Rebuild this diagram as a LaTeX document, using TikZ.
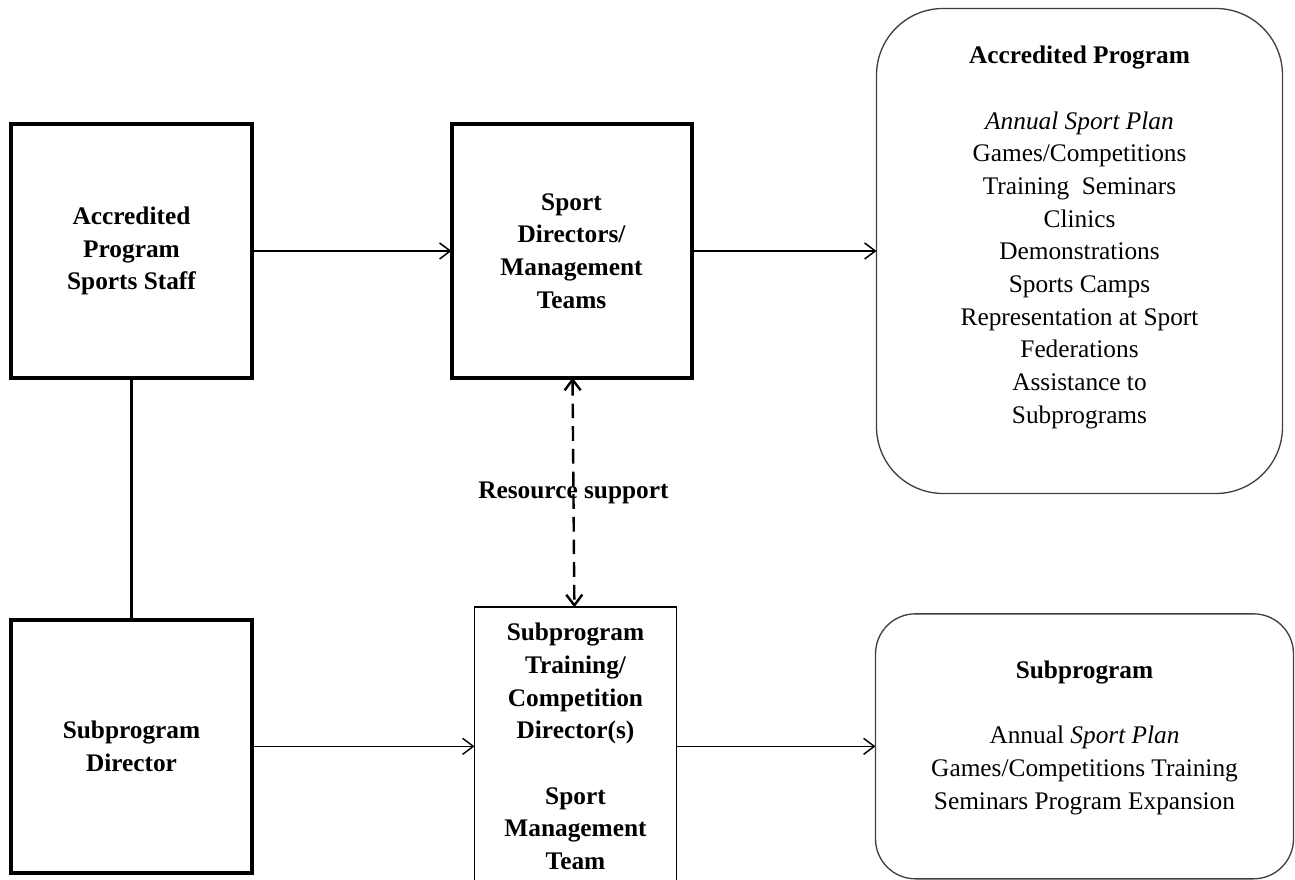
\documentclass[tikz,border=0pt]{standalone}
\usepackage{fontspec}
\setmainfont{Liberation Serif}
\usetikzlibrary{positioning, arrows.meta}

\begin{document}
\begin{tikzpicture}[
    outer sep=0pt,
    block/.style={draw, line width=3pt, minimum width=180pt, minimum height=190pt,
                  font=\fontsize{19}{24.5}\selectfont\bfseries, align=center, inner sep=0pt},
    subblock/.style={block, line width=1.3pt, minimum width=151.5pt, minimum height=208.5pt},
    listbox/.style={draw=black!75, line width=1pt, align=center, inner sep=0pt,
                    font=\fontsize{19}{24.5}\selectfont},
    io/.style={font=\fontsize{19}{24.5}\selectfont\bfseries, inner sep=0pt},
    arr/.style={draw, -{Straight Barb[length=8pt, width=12pt]}, line width=1.1pt},
    dashline/.style={draw, {Straight Barb[length=8pt, width=12pt]}-{Straight Barb[length=8pt, width=12pt]},
                     line width=1.8pt, dash pattern=on 11pt off 6pt},
    link/.style={draw, line width=2.2pt},
]
\clip (-98.625pt,188.25pt) rectangle (872.625pt,-471.75pt);

% --- Accredited program row ---
\node[block] (staff) at (0,0) {Accredited\\Program\\Sports Staff};

\node[block, right=150pt of staff] (mgmt)
  {Sport\\Directors/\\Management\\Teams};

\node[listbox, right=138.75pt of mgmt, minimum width=304.5pt, minimum height=363.75pt,
      rounded corners=50pt] (accprog)
  {\textbf{Accredited Program}\\[24.5pt]
   \textit{Annual Sport Plan}\\
   Games/Competitions\\
   Training\ \ Seminars\\
   Clinics\\
   Demonstrations\\
   Sports Camps\\
   Representation at Sport\\
   Federations\\
   Assistance to\\
   Subprograms\\[0pt]\mbox{}};

% --- Subprogram row ---
\node[block, below=181.5pt of staff] (subdir) {Subprogram\\Director};

\node[subblock, right=167.25pt of subdir] (subtrain)
  {Subprogram\\Training/\\Competition\\Director(s)\\[24.5pt]Sport\\Management\\Team};

\node[listbox, right=149.25pt of subtrain, minimum width=313.5pt, minimum height=198.75pt,
      rounded corners=30pt] (subprog)
  {\textbf{Subprogram}\\[24.5pt]
   Annual \textit{Sport Plan}\\
   Games/Competitions Training\\
   Seminars Program Expansion\\[-7.5pt]\mbox{}};

% --- Arrows ---
\draw[arr] (staff) -- (mgmt);
\draw[arr] (mgmt) -- (accprog);
\draw[arr] (subdir) -- (subtrain);
\draw[arr] (subtrain) -- (subprog);
\draw[link] (staff) -- (subdir);

% Resource support (dashed, both ways)
\draw[dashline] (mgmt) -- node[io] (res) {Resource support} (subtrain);
\end{tikzpicture}
\end{document}
